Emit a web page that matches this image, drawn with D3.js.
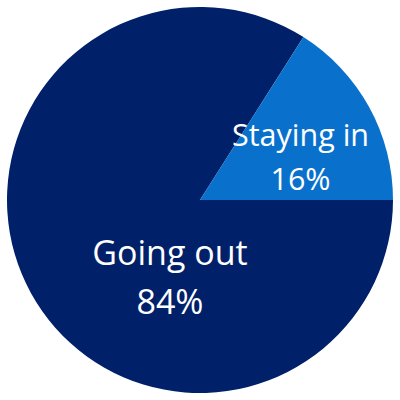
<!DOCTYPE html>
<html>
<head>
<meta charset="utf-8">
<script src="https://cdn.jsdelivr.net/npm/d3@7"></script>
<style>
  html, body { margin: 0; padding: 0; background: #fff; }
  svg { display: block; }
  .sliceLabel { fill: #fff; font-family: "Open Sans", sans-serif; font-weight: 400; }
</style>
</head>
<body>
<svg id="chart" width="400" height="400"></svg>
<script>
/*
 Data
 */
var categories = ["Going out", "Staying in"];
var shares = [84, 16];
var sliceColors = ["#002169", "#0971cc"];

/*
 Layout
 */
var CX = 200, CY = 200;
var RADIUS = 193;
// label anchors (midpoint between the two baselines) in polar form:
// degrees clockwise from 12 o'clock, px from center
var LABEL_POS = [
    { angle: 198.5, radius: 94.6, size: 34, gap: 49 },
    { angle: 72.3, radius: 105.5, size: 30.5, gap: 44 }
];

var svg = d3.select('#chart');

var pieData = categories.map(function (c, i) {
    return { id: i, name: c, value: shares[i] };
});

var pie = d3.pie()
    .sort(null)
    .value(function (d) { return d.value; })
    .startAngle(Math.PI / 2)
    .endAngle(Math.PI / 2 + 2 * Math.PI);

var arc = d3.arc()
    .innerRadius(0)
    .outerRadius(RADIUS);

var color = d3.scaleOrdinal()
    .domain(categories)
    .range(sliceColors);

var g = svg.append('g')
    .attr('transform', 'translate(' + CX + ',' + CY + ')');

g.selectAll('.slice')
    .data(pie(pieData))
    .enter().append('path')
    .classed('slice', true)
    .attr('d', arc)
    .attr('fill', function (d) {
        return color(d.data.name);
    });

var labels = g.selectAll('.sliceLabel')
    .data(pie(pieData))
    .enter().append('text')
    .classed('sliceLabel', true)
    .attr('text-anchor', 'middle')
    .attr('font-size', function (d, i) { return LABEL_POS[i].size; })
    .attr('transform', function (d, i) {
        var a = LABEL_POS[i].angle * Math.PI / 180;
        var r = LABEL_POS[i].radius;
        return 'translate(' + (r * Math.sin(a)) + ',' + (-r * Math.cos(a)) + ')';
    });

labels.append('tspan')
    .attr('x', 0)
    .attr('y', function (d, i) { return -LABEL_POS[i].gap / 2; })
    .text(function (d) { return d.data.name; });

labels.append('tspan')
    .attr('x', 0)
    .attr('y', function (d, i) { return LABEL_POS[i].gap / 2; })
    .text(function (d) { return d.data.value + '%'; });
</script>
</body>
</html>
